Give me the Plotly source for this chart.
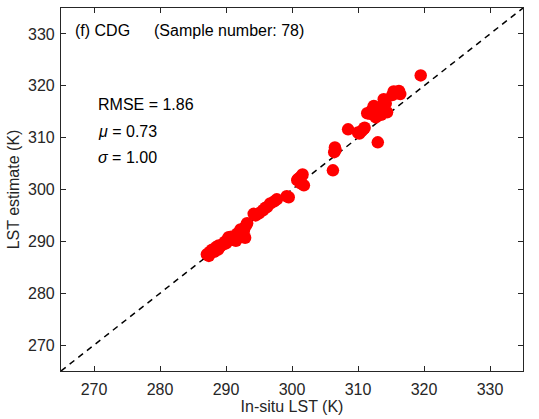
import plotly.graph_objects as go

# In-situ LST (K) and LST estimate (K) for CDG samples
insitu = [319.5, 315.6, 316.2, 316.4, 315.9, 315.4, 313.9, 314.2, 312.4, 311.4, 312.7, 314.4,
          312.1, 313.8, 313.5, 311.8, 308.5, 310.2, 310.8, 310.5, 313.0, 306.5, 306.4, 306.2,
          301.4, 300.8, 301.8, 301.1, 301.6, 299.5, 297.7, 296.7, 296.2, 295.6, 294.5, 294.2,
          293.0, 292.4, 292.9, 291.5, 290.8, 290.0, 289.1, 288.8, 287.9, 287.4, 287.1, 288.2,
          289.4, 290.4, 291.1, 291.9, 292.2, 293.2, 292.6, 290.6, 289.8, 288.5, 287.6, 287.3,
          295.0, 296.0, 297.3, 299.2, 300.9, 306.6, 310.0, 311.0, 312.9, 314.0, 315.2, 316.0,
          288.9, 290.2, 291.7, 292.7, 301.3, 312.5]
estimate = [322.0, 318.8, 319.0, 318.4, 318.6, 318.9, 317.4, 316.6, 316.1, 314.7, 313.9, 314.9,
            315.3, 315.7, 314.4, 314.6, 311.6, 310.8, 311.6, 311.2, 309.1, 308.1, 307.2, 303.7,
            302.5, 301.8, 300.8, 302.2, 302.9, 298.5, 298.1, 297.3, 296.6, 296.0, 295.0, 295.3,
            293.0, 291.9, 290.7, 290.1, 290.9, 289.6, 289.0, 288.4, 288.4, 287.2, 287.5, 288.0,
            289.3, 290.8, 290.3, 291.2, 292.3, 293.5, 291.0, 290.5, 289.9, 288.9, 288.0, 287.6,
            295.4, 296.5, 297.7, 298.7, 302.0, 307.6, 311.0, 311.9, 315.0, 316.8, 318.2, 318.7,
            289.2, 290.3, 291.5, 292.0, 301.2, 315.1]

axis_range = [265, 335]
tick_vals = [270, 280, 290, 300, 310, 320, 330]
tick_text = [str(v) for v in tick_vals]

font_family = "Arial, Liberation Sans, sans-serif"
axis_color = "#262626"
fs = 16

fig = go.Figure()
fig.add_trace(go.Scatter(
    x=axis_range, y=axis_range, mode="lines",
    line=dict(color="black", width=1.5, dash="6px,5px"),
    hoverinfo="skip", showlegend=False,
))
fig.add_trace(go.Scatter(
    x=insitu, y=estimate, mode="markers",
    marker=dict(color="#FF0000", size=12.5, line=dict(width=0)),
    showlegend=False,
))

axis_common = dict(
    range=axis_range, tickvals=tick_vals, ticktext=tick_text,
    ticks="inside", ticklen=5, tickwidth=1, tickcolor=axis_color,
    showline=True, linecolor=axis_color, linewidth=1.2, mirror="ticks",
    showgrid=False, zeroline=False,
    tickfont=dict(family=font_family, size=fs, color=axis_color),
)

fig.update_layout(
    width=539, height=419,
    margin=dict(l=61, r=16, t=8, b=48),
    paper_bgcolor="white", plot_bgcolor="white",
    font=dict(family=font_family, size=fs, color=axis_color),
    xaxis=dict(**axis_common, ticklabelstandoff=4,
               title=dict(text="In-situ LST (K)", font=dict(family=font_family, size=fs, color=axis_color), standoff=2)),
    yaxis=dict(**axis_common, ticklabelstandoff=2,
               title=dict(text="LST estimate (K)", font=dict(family=font_family, size=fs, color=axis_color), standoff=4)),
)

anns = [
    dict(x=75, y=31, text="(f) CDG"),
    dict(x=154, y=31, text="(Sample number: 78)"),
    dict(x=98, y=105, text="RMSE = 1.86"),
    dict(x=98, y=131, text="<i>μ</i> = 0.73"),
    dict(x=98, y=157, text="<i>σ</i> = 1.00"),
]
for a in anns:
    fig.add_annotation(
        x=(a["x"] - 61) / 462, y=1 - (a["y"] - 8) / 363,
        xref="paper", yref="paper", xanchor="left", yanchor="middle",
        text=a["text"], showarrow=False, xshift=-2,
        font=dict(family=font_family, size=fs, color="black"),
    )

fig.write_html("out.html")
